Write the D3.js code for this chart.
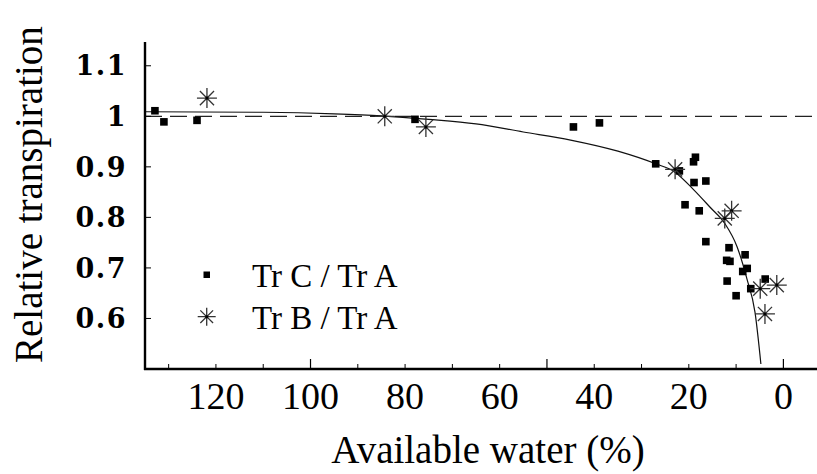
<!DOCTYPE html>
<html>
<head>
<meta charset="utf-8">
<script src="https://cdn.jsdelivr.net/npm/d3@7"></script>
<style>
  body { margin: 0; background: #fff; }
  svg { display: block; }
</style>
</head>
<body>
<div id="chart"></div>
<script>
// Tr C / Tr A  (available water %, relative transpiration)
var waterC = [132.9, 131, 124, 77.9, 44.4, 38.9, 27.0, 22.0, 18.6, 19.0, 18.9, 16.4, 20.8, 17.8, 16.4,
  11.5, 8.1, 12.0, 11.3, 7.65, 8.6, 11.9, 3.85, 6.9, 10.0];
var relC = [1.011, 0.989, 0.992, 0.994, 0.979, 0.987, 0.906, 0.892, 0.919, 0.910, 0.869, 0.872, 0.825, 0.813, 0.752,
  0.740, 0.726, 0.715, 0.713, 0.699, 0.693, 0.674, 0.678, 0.659, 0.645];

// Tr B / Tr A
var waterB = [121.9, 84.3, 75.6, 22.9, 10.95, 12.4, 4.9, 1.4, 3.9];
var relB = [1.036, 1.0, 0.979, 0.895, 0.813, 0.798, 0.659, 0.666, 0.609];

// fitted curve
var fitWater = [135, 110, 95, 85, 75, 65, 55, 45, 35, 27, 23, 19, 15.5, 12.4, 9.8, 7.7, 6.0, 4.76];
var fitRel = [1.009, 1.008, 1.005, 1.001, 0.994, 0.985, 0.969, 0.953, 0.931, 0.906, 0.890, 0.855, 0.820,
  0.788, 0.742, 0.678, 0.612, 0.510];

var xLabels = [120, 100, 80, 60, 40, 20, 0];
var xMinor = [130, 120, 110, 90, 80, 70, 60, 40, 30, 20, 10];
var xMajor = [100, 50, 0];
var yTicks = [1.1, 1, 0.9, 0.8, 0.7, 0.6];
var yLabels = ["1.1", "1", "0.9", "0.8", "0.7", "0.6"];

var W = 817, H = 474;
var svg = d3.select("#chart").append("svg").attr("width", W).attr("height", H);

var x = d3.scaleLinear().domain([135, -7]).range([145, 816.5]);
var y = d3.scaleLinear().domain([0.5, 1.15]).range([369, 40.5]);

// reference line at 1
svg.append("line")
  .attr("x1", x(135)).attr("x2", W)
  .attr("y1", y(1)).attr("y2", y(1))
  .attr("stroke", "#222").attr("stroke-width", 1.3)
  .attr("stroke-dasharray", "17,8");

// fitted curve
var fit = fitWater.map(function (d, i) { return [d, fitRel[i]]; });
svg.append("path")
  .datum(fit)
  .attr("d", d3.line()
    .x(function (d) { return x(d[0]); })
    .y(function (d) { return y(d[1]); })
    .curve(d3.curveMonotoneX))
  .attr("fill", "none").attr("stroke", "#111").attr("stroke-width", 1.2);

// axes
svg.append("line").attr("x1", 145).attr("x2", 145).attr("y1", 42).attr("y2", 370)
  .attr("stroke", "#000").attr("stroke-width", 2.4);
svg.append("line").attr("x1", 144).attr("x2", W).attr("y1", 369).attr("y2", 369)
  .attr("stroke", "#000").attr("stroke-width", 2.4);

svg.selectAll(".ytick").data(yTicks).enter().append("line")
  .attr("x1", 145).attr("x2", 151)
  .attr("y1", function (d) { return y(d); }).attr("y2", function (d) { return y(d); })
  .attr("stroke", "#000").attr("stroke-width", 1);

svg.selectAll(".xminor").data(xMinor).enter().append("line")
  .attr("x1", function (d) { return x(d); }).attr("x2", function (d) { return x(d); })
  .attr("y1", 369).attr("y2", 364)
  .attr("stroke", "#000").attr("stroke-width", 1);
svg.selectAll(".xmajor").data(xMajor).enter().append("line")
  .attr("x1", function (d) { return x(d); }).attr("x2", function (d) { return x(d); })
  .attr("y1", 369).attr("y2", 359)
  .attr("stroke", "#000").attr("stroke-width", 1.2);

svg.selectAll(".ylab").data(yTicks).enter().append("text")
  .attr("x", 127)
  .attr("y", function (d) { return y(d); })
  .attr("dy", "0.36em")
  .attr("text-anchor", "end")
  .style("font-family", "'DejaVu Serif', serif")
  .style("font-weight", "bold")
  .style("font-size", "27px")
  .style("letter-spacing", "1.5px")
  .text(function (d, i) { return yLabels[i]; });

svg.selectAll(".xlab").data(xLabels).enter().append("text")
  .attr("x", function (d) { return x(d); })
  .attr("y", 409)
  .attr("text-anchor", "middle")
  .style("font-family", "'Liberation Serif', 'Times New Roman', serif")
  .style("font-size", "38px")
  .text(function (d) { return d; });

svg.append("text")
  .attr("x", 488).attr("y", 463)
  .attr("text-anchor", "middle")
  .style("font-family", "'Liberation Serif', 'Times New Roman', serif")
  .style("font-size", "39px")
  .text("Available water (%)");

svg.append("text")
  .attr("transform", "translate(42,363) rotate(-90)")
  .attr("text-anchor", "start")
  .style("font-family", "'Liberation Serif', 'Times New Roman', serif")
  .style("font-size", "39px")
  .text("Relative transpiration");

// markers
function star(g, s) {
  var a = s * 0.7071;
  g.append("path")
    .attr("d", "M" + (-s) + ",0H" + s + "M0," + (-s) + "V" + s +
      "M" + (-a) + "," + (-a) + "L" + a + "," + a +
      "M" + (-a) + "," + a + "L" + a + "," + (-a))
    .attr("stroke", "#333").attr("stroke-width", 1.3).attr("fill", "none");
  g.append("circle").attr("r", 1.5).attr("fill", "#000");
}

svg.selectAll(".sq").data(waterC).enter().append("rect")
  .attr("x", function (d) { return x(d) - 3.8; })
  .attr("y", function (d, i) { return y(relC[i]) - 3.8; })
  .attr("width", 7.6).attr("height", 7.6)
  .attr("fill", "#000");

svg.selectAll(".st").data(waterB).enter().append("g")
  .attr("transform", function (d, i) { return "translate(" + x(d) + "," + y(relB[i]) + ")"; })
  .each(function () { star(d3.select(this), 10); });

// legend
svg.append("rect").attr("x", 203.5).attr("y", 271.5).attr("width", 6.5).attr("height", 6.5).attr("fill", "#000");
star(svg.append("g").attr("transform", "translate(206.7,316.7)"), 9);
svg.append("text").attr("x", 252).attr("y", 287)
  .style("font-family", "'Liberation Serif', 'Times New Roman', serif").style("font-size", "33px")
  .text("Tr C / Tr A");
svg.append("text").attr("x", 252).attr("y", 329)
  .style("font-family", "'Liberation Serif', 'Times New Roman', serif").style("font-size", "33px")
  .text("Tr B / Tr A");
</script>
</body>
</html>
